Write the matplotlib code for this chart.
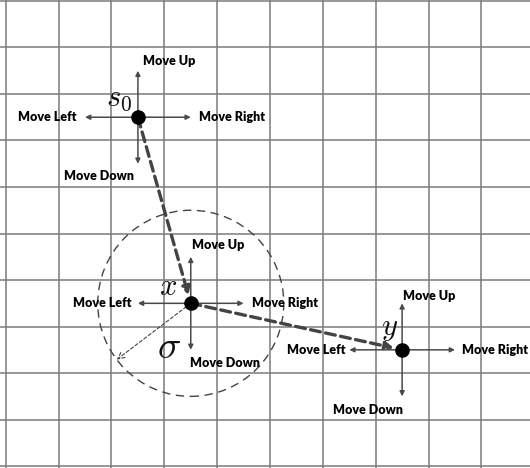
import matplotlib.pyplot as plt
from matplotlib.patches import Ellipse

# Grid (cells)
n_cols = 10
n_rows = 10

# States on the grid
state_x = [2.5, 3.5, 7.5]
state_y = [7.5, 3.5, 2.5]
state_names = [r'$s_0$', r'$x$', r'$y$']

# Actions
actions = ['Move Up', 'Move Down', 'Move Left', 'Move Right']
action_dx = [0, 0, -1, 1]
action_dy = [1, -1, 0, 0]

# Neighbourhood radius around x (in cells)
sigma_rx = 1.76
sigma_ry = 2.0

plt.rcParams['mathtext.fontset'] = 'cm'
fig = plt.figure(figsize=(5.30, 4.68), dpi=100)
ax = fig.add_axes([0, 0, 1, 1])
ax.set_xlim(-0.11, 9.92)
ax.set_ylim(-0.04, 10.02)
ax.axis('off')

# Grid lines
for i in range(n_cols + 1):
    ax.axvline(i, color='#7a7a7a', lw=1.1, zorder=0)
for j in range(n_rows + 1):
    ax.axhline(j, color='#7a7a7a', lw=1.1, zorder=0)

# Label placement per state: (dx, dy, ha) for each action, and for the name
label_pos = [
    {'Move Up': (0.09, 1.21, 'left'), 'Move Down': (-0.08, -1.26, 'right'),
     'Move Left': (-1.17, 0, 'right'), 'Move Right': (1.16, 0, 'left'),
     'name': (-0.36, 0.41)},
    {'Move Up': (0.02, 1.25, 'left'), 'Move Down': (-0.02, -1.28, 'left'),
     'Move Left': (-1.13, 0, 'right'), 'Move Right': (1.16, 0, 'left'),
     'name': (-0.43, 0.37)},
    {'Move Up': (0.02, 1.16, 'left'), 'Move Down': (0.02, -1.30, 'right'),
     'Move Left': (-1.08, 0, 'right'), 'Move Right': (1.14, 0, 'left'),
     'name': (-0.23, 0.45)},
]

arrow_col = '#4a4a4a'
for k in range(len(state_x)):
    sx, sy = state_x[k], state_y[k]
    for a, dx, dy in zip(actions, action_dx, action_dy):
        ax.annotate('', xy=(sx + dx, sy + dy), xytext=(sx, sy),
                    arrowprops=dict(arrowstyle='-|>', color=arrow_col, lw=1.1,
                                    mutation_scale=7, shrinkA=0, shrinkB=0),
                    zorder=3)
        ox, oy, ha = label_pos[k][a]
        ax.text(sx + ox, sy + oy, a, ha=ha, va='center', fontsize=9,
                fontweight='heavy', family='Lato', color='#000000')
    nx, ny = label_pos[k]['name']
    ax.text(sx + nx, sy + ny, state_names[k], ha='center', va='center',
            fontsize=22, color='#111111')

# Thick dashed path s0 -> x -> y
for k in range(len(state_x) - 1):
    ax.annotate('', xy=(state_x[k + 1], state_y[k + 1]),
                xytext=(state_x[k], state_y[k]),
                arrowprops=dict(arrowstyle='-|>', color='#444444', lw=2.4,
                                linestyle=(0, (3, 1.6)), mutation_scale=12,
                                shrinkA=0, shrinkB=6),
                zorder=4)

# Dashed neighbourhood circle around x
ax.add_patch(Ellipse((state_x[1], state_y[1]), 2 * sigma_rx, 2 * sigma_ry,
                     fill=False, ec='#444444', lw=1.0,
                     linestyle=(0, (6, 4)), zorder=2))
ax.annotate('', xy=(state_x[1] - 1.40, state_y[1] - 1.21),
            xytext=(state_x[1], state_y[1]),
            arrowprops=dict(arrowstyle='->', color='#444444', lw=0.8,
                            linestyle=(0, (3, 2)), mutation_scale=12,
                            shrinkA=0, shrinkB=0),
            zorder=2)
ax.text(state_x[1] - 0.41, state_y[1] - 0.94, r'$\sigma$', ha='center',
        va='center', fontsize=28, color='#111111')

# State dots
ax.plot(state_x, state_y, 'o', color='black', markersize=9.5, zorder=5)

plt.savefig('out.png', dpi=100)
